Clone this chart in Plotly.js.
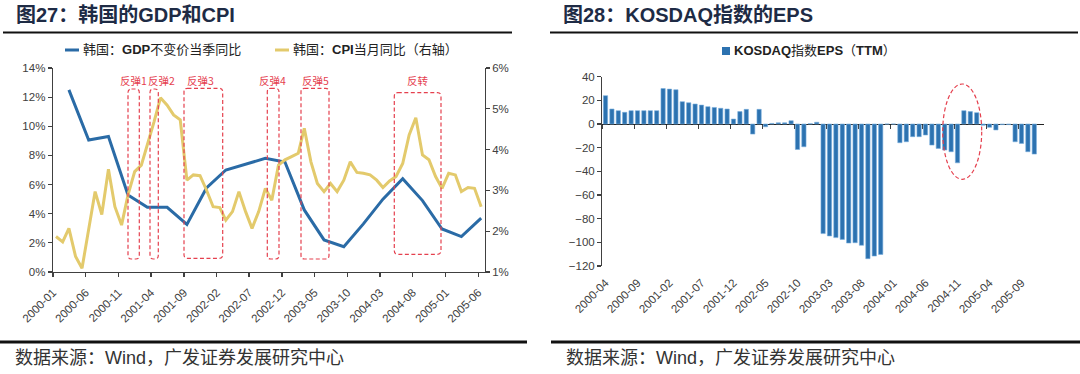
<!DOCTYPE html>
<html><head><meta charset="utf-8">
<script src="https://cdn.plot.ly/plotly-3.0.1.min.js"></script>
<style>html,body{margin:0;padding:0;background:#fff;}#chart{width:1080px;height:374px;}</style>
</head><body><div id="chart"></div>
<script>
// ---------- Data: left chart (Korea GDP & CPI) ----------
const gdpQuarters = ['2000-03','2000-06','2000-09','2000-12','2001-03','2001-06','2001-09','2001-12',
  '2002-03','2002-06','2002-09','2002-12','2003-03','2003-06','2003-09','2003-12',
  '2004-03','2004-06','2004-09','2004-12','2005-03','2005-06'];
const gdpValues = [12.5, 9.06, 9.3, 5.28, 4.44, 4.44, 3.27, 5.77,
  7.0, 7.4, 7.8, 7.55, 4.26, 2.2, 1.74, 3.3,
  5.0, 6.4, 4.9, 2.95, 2.43, 3.7];

const cpiMonths = ['2000-01','2000-02','2000-03','2000-04','2000-05','2000-06','2000-07','2000-08','2000-09','2000-10','2000-11','2000-12',
  '2001-01','2001-02','2001-03','2001-04','2001-05','2001-06','2001-07','2001-08','2001-09','2001-10','2001-11','2001-12',
  '2002-01','2002-02','2002-03','2002-04','2002-05','2002-06','2002-07','2002-08','2002-09','2002-10','2002-11','2002-12',
  '2003-01','2003-02','2003-03','2003-04','2003-05','2003-06','2003-07','2003-08','2003-09','2003-10','2003-11','2003-12',
  '2004-01','2004-02','2004-03','2004-04','2004-05','2004-06','2004-07','2004-08','2004-09','2004-10','2004-11','2004-12',
  '2005-01','2005-02','2005-03','2005-04','2005-05','2005-06'];
const cpiValues = [1.87, 1.74, 2.07, 1.38, 1.09, 2.1, 2.97, 2.41, 3.52, 2.6, 2.15, 2.89,
  3.46, 3.62, 4.11, 4.68, 5.27, 5.09, 4.85, 4.73, 3.25, 3.38, 3.36, 3.01,
  2.6, 2.58, 2.27, 2.48, 2.97, 2.48, 2.07, 2.48, 3.05, 2.76, 3.62, 3.75,
  3.83, 3.91, 4.52, 3.7, 3.17, 2.97, 3.17, 2.97, 3.25, 3.7, 3.44, 3.42,
  3.38, 3.25, 3.07, 3.23, 3.34, 3.66, 4.36, 4.78, 3.87, 3.75, 3.34, 3.05,
  3.42, 3.38, 2.97, 3.07, 3.05, 2.6];
const leftTickStart = '2000-01-01';

// ---------- Data: right chart (KOSDAQ EPS TTM) ----------
const epsMonths = ['2000-04','2000-05','2000-06','2000-07','2000-08','2000-09','2000-10','2000-11','2000-12',
  '2001-01','2001-02','2001-03','2001-04','2001-05','2001-06','2001-07','2001-08','2001-09','2001-10','2001-11','2001-12',
  '2002-01','2002-02','2002-03','2002-04','2002-05','2002-06','2002-07','2002-08','2002-09','2002-10','2002-11','2002-12',
  '2003-01','2003-02','2003-03','2003-04','2003-05','2003-06','2003-07','2003-08','2003-09','2003-10','2003-11','2003-12',
  '2004-01','2004-02','2004-03','2004-04','2004-05','2004-06','2004-07','2004-08','2004-09','2004-10','2004-11','2004-12',
  '2005-01','2005-02','2005-03','2005-04','2005-05','2005-06','2005-07','2005-08','2005-09','2005-10','2005-11','2005-12'];
const epsValues = [24, 12.7, 11.3, 9.9, 11.3, 11.3, 11.3, 11.3, 11.3,
  30, 29.5, 29, 18.9, 18, 16.9, 16, 14.7, 14, 13.3, 12.7, 4.2,
  10.5, 12.4, -8.5, 12.4, -2.3, 0.5, 1, 1, 2.8, -21.5, -19.2, 0.3,
  1.5, -92.6, -94.6, -96, -97.5, -100.6, -100.3, -102.5, -113.8, -111.6, -110.2, 0,
  0, -15.8, -15, -10.7, -10.7, -9.3, -17.8, -20.6, -22, -23.4, -32.8, 11.3,
  10.5, 9.6, -1, -2.8, -5, -0.5, -0.5, -15, -16.4, -23.4, -25.4, null];
const epsTickLabels = ['2000-04','2000-09','2001-02','2001-07','2001-12','2002-05','2002-10',
  '2003-03','2003-08','2004-01','2004-06','2004-11','2005-04','2005-09'];

// ---------- Texts ----------
const titleLeft = '图27：韩国的GDP和CPI';
const titleRight = '图28：KOSDAQ指数的EPS';
const sourceText = '数据来源：Wind，广发证券发展研究中心';
const gdpName = '韩国：GDP不变价当季同比';
const cpiName = '韩国：CPI当月同比（右轴）';
const epsName = 'KOSDAQ指数EPS（TTM）';
const boxLabels = ['反弹1','反弹2','反弹3','反弹4','反弹5','反转'];

// ---------- Layout helpers (pixel -> paper) ----------
const W = 1080, H = 374;
const PX = v => v / W, PY = v => 1 - v / H;
const FONT = 'Liberation Sans, Arial, Noto Sans CJK SC, sans-serif';
const CJK = 'Noto Sans CJK SC, Liberation Sans, sans-serif';
const RED = '#E5404E';
const BLUE = '#2A6BA6', YELLOW = '#E3CA6C', BAR = '#2C72B0';
const boldLatin = s => s.replace(/([A-Za-z]+)/g, '<b>$1</b>');

function rrect(x0, y0, x1, y1, r) {
  const X = v => PX(v).toFixed(5), Y = v => PY(v).toFixed(5);
  return `M${X(x0+r)},${Y(y0)} L${X(x1-r)},${Y(y0)} Q${X(x1)},${Y(y0)} ${X(x1)},${Y(y0+r)} ` +
    `L${X(x1)},${Y(y1-r)} Q${X(x1)},${Y(y1)} ${X(x1-r)},${Y(y1)} L${X(x0+r)},${Y(y1)} ` +
    `Q${X(x0)},${Y(y1)} ${X(x0)},${Y(y1-r)} L${X(x0)},${Y(y0+r)} Q${X(x0)},${Y(y0)} ${X(x0+r)},${Y(y0)} Z`;
}

const mid = m => m + '-15';
const epsIdx = epsMonths.map((_, i) => i);
const epsTickIdx = epsTickLabels.map(l => epsMonths.indexOf(l));

const traces = [
  { type: 'scatter', mode: 'lines', name: gdpName, x: gdpQuarters.map(mid), y: gdpValues,
    xaxis: 'x', yaxis: 'y', line: { color: BLUE, width: 3 } },
  { type: 'scatter', mode: 'lines', name: cpiName, x: cpiMonths.map(mid), y: cpiValues,
    xaxis: 'x', yaxis: 'y2', line: { color: YELLOW, width: 3 } },
  { type: 'bar', name: epsName, x: epsIdx, y: epsValues, xaxis: 'x2', yaxis: 'y3',
    marker: { color: BAR, line: { color: '#78AEDD', width: 0.6 } } },
  { type: 'scatter', mode: 'markers', x: epsIdx, y: epsValues, xaxis: 'x3', yaxis: 'y3',
    marker: { opacity: 0 }, showlegend: false, hoverinfo: 'skip' }
];

const axisCommon = {
  showgrid: false, zeroline: false, showline: true, linecolor: '#404040', linewidth: 1.3,
  ticks: 'outside', ticklen: 4, tickcolor: '#404040', tickwidth: 1.2,
  tickfont: { family: FONT, size: 11.5, color: '#404040' }, fixedrange: true
};

const shapes = [];
// header and footer rules
shapes.push({ type: 'line', xref: 'paper', yref: 'paper', x0: PX(3), x1: PX(512), y0: PY(32.5), y1: PY(32.5), line: { color: '#111', width: 2 } });
shapes.push({ type: 'line', xref: 'paper', yref: 'paper', x0: PX(550), x1: PX(1078), y0: PY(32.5), y1: PY(32.5), line: { color: '#111', width: 2 } });
shapes.push({ type: 'line', xref: 'paper', yref: 'paper', x0: PX(0), x1: PX(527), y0: PY(342), y1: PY(342), line: { color: '#111', width: 3 } });
shapes.push({ type: 'line', xref: 'paper', yref: 'paper', x0: PX(551), x1: PX(1080), y0: PY(342), y1: PY(342), line: { color: '#111', width: 3 } });
// legend keys
shapes.push({ type: 'line', xref: 'paper', yref: 'paper', x0: PX(65), x1: PX(79), y0: PY(50), y1: PY(50), line: { color: BLUE, width: 3 } });
shapes.push({ type: 'line', xref: 'paper', yref: 'paper', x0: PX(275), x1: PX(289), y0: PY(50), y1: PY(50), line: { color: YELLOW, width: 3 } });
shapes.push({ type: 'rect', xref: 'paper', yref: 'paper', x0: PX(722), x1: PX(730), y0: PY(55), y1: PY(47), line: { width: 0 }, fillcolor: BAR });
// dashed rounded boxes (left chart)
const boxes = [[128, 89, 139.3, 259], [150, 89, 158.3, 259], [184, 88.3, 222.7, 258.3],
  [267.3, 88.3, 279, 259], [301, 88.3, 329, 259], [394.3, 92.7, 441, 254.3]];
boxes.forEach(b => shapes.push({ type: 'path', xref: 'paper', yref: 'paper', path: rrect(b[0], b[1], b[2], b[3], 3.5),
  line: { color: RED, width: 1.2, dash: '4px,2.5px' } }));
// dashed ellipse (right chart)
shapes.push({ type: 'circle', xref: 'paper', yref: 'paper', x0: PX(942.7), x1: PX(981.7), y0: PY(179.3), y1: PY(84),
  line: { color: RED, width: 1.2, dash: '4px,2.5px' } });

const annotations = [
  { text: '<b>' + titleLeft + '</b>', x: PX(14), y: PY(15), xanchor: 'left', yanchor: 'middle', showarrow: false,
    xref: 'paper', yref: 'paper', font: { family: FONT, size: 20, color: '#1E2B45' } },
  { text: '<b>' + titleRight + '</b>', x: PX(561), y: PY(15), xanchor: 'left', yanchor: 'middle', showarrow: false,
    xref: 'paper', yref: 'paper', font: { family: FONT, size: 20, color: '#1E2B45' } },
  { text: sourceText, x: PX(13), y: PY(358), xanchor: 'left', yanchor: 'middle', showarrow: false,
    xref: 'paper', yref: 'paper', font: { family: FONT, size: 18, color: '#333' } },
  { text: sourceText, x: PX(564), y: PY(358), xanchor: 'left', yanchor: 'middle', showarrow: false,
    xref: 'paper', yref: 'paper', font: { family: FONT, size: 18, color: '#333' } },
  { text: boldLatin(gdpName), x: PX(81), y: PY(50), xanchor: 'left', yanchor: 'middle', showarrow: false,
    xref: 'paper', yref: 'paper', font: { family: FONT, size: 13, color: '#222' } },
  { text: boldLatin(cpiName), x: PX(291), y: PY(50), xanchor: 'left', yanchor: 'middle', showarrow: false,
    xref: 'paper', yref: 'paper', font: { family: FONT, size: 13, color: '#222' } },
  { text: boldLatin(epsName), x: PX(732), y: PY(51), xanchor: 'left', yanchor: 'middle', showarrow: false,
    xref: 'paper', yref: 'paper', font: { family: FONT, size: 13, color: '#222' } }
];
const labelX = [133, 161, 200, 272, 315, 417.5];
boxLabels.forEach((t, i) => annotations.push({ text: t, x: PX(labelX[i]), y: PY(81), xanchor: 'center', yanchor: 'middle',
  showarrow: false, xref: 'paper', yref: 'paper', font: { family: CJK, size: 10.5, color: RED } }));

const layout = {
  width: W, height: H, margin: { l: 0, r: 0, t: 0, b: 0 }, paper_bgcolor: '#fff', plot_bgcolor: 'rgba(0,0,0,0)',
  font: { family: FONT, color: '#333' }, bargap: 0.33, showlegend: false,
  xaxis: Object.assign({}, axisCommon, { type: 'date', domain: [PX(53), PX(484.6)], anchor: 'y',
    range: ['2000-01-01', '2005-07-01'], tick0: leftTickStart, dtick: 'M5', tickformat: '%Y-%m', tickangle: -45,
    ticklabelstandoff: 4 }),
  yaxis: Object.assign({}, axisCommon, { domain: [PY(272), PY(68)], anchor: 'x', range: [0, 14], dtick: 2, ticksuffix: '%' }),
  yaxis2: Object.assign({}, axisCommon, { overlaying: 'y', side: 'right', anchor: 'x', range: [1, 6], dtick: 1, ticksuffix: '%' }),
  xaxis2: Object.assign({}, axisCommon, { type: 'linear', domain: [PX(602.3), PX(1043.9)], anchor: 'y3',
    range: [-0.5, epsMonths.length - 0.5], showline: false, ticks: '', tickmode: 'array',
    tickvals: epsTickIdx, ticktext: epsTickLabels, tickangle: -45, ticklabelstandoff: 7 }),
  xaxis3: Object.assign({}, axisCommon, { type: 'linear', overlaying: 'x2', anchor: 'free', position: PY(124),
    range: [-0.5, epsMonths.length - 0.5], tickmode: 'array', tickvals: epsTickIdx.map(i => i - 0.5),
    showticklabels: false, linewidth: 1, linecolor: '#222', layer: 'below traces' }),
  yaxis3: Object.assign({}, axisCommon, { domain: [PY(266), PY(76.7)], anchor: 'x2', range: [-120, 40], dtick: 20 }),
  shapes: shapes, annotations: annotations
};

Plotly.newPlot('chart', traces, layout, { staticPlot: true, displayModeBar: false });
</script></body></html>
